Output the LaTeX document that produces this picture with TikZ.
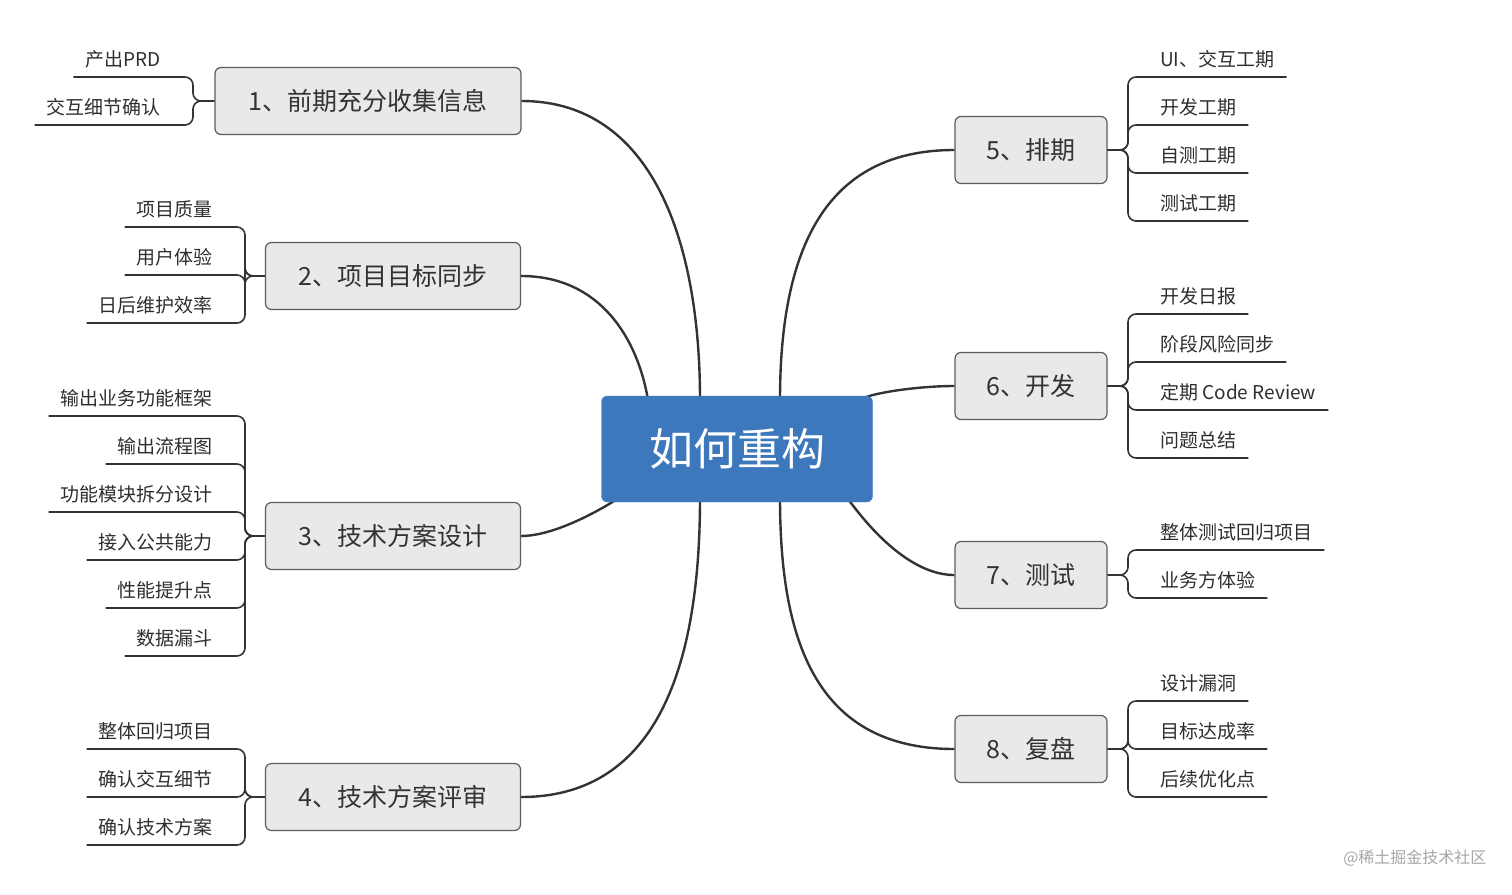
\documentclass[tikz,border=0pt]{standalone}
\usepackage{fontspec}
\setmainfont{Noto Sans CJK SC}
\usetikzlibrary{positioning, calc}

\definecolor{centreblue}{HTML}{3D78BD}
\definecolor{boxgrey}{HTML}{E9E9E9}
\definecolor{inkgrey}{HTML}{333333}

% left and right leaves: name, stub x, underline y, text, parent
\newcommand{\lleaf}[5]{%
  \node[leaftext, anchor=base east] (#1) at (#2-32,#3-11) {#4};
  \draw[twig] (#5.west) -- (#5.west -| #2,0) |- ($(#1.west |- 0,#3)+(-12,0)$);}
\newcommand{\rleaf}[5]{%
  \node[leaftext, anchor=base west] (#1) at (#2+32,#3-11) {#4};
  \draw[twig] (#5.east) -- (#5.east -| #2,0) |- ($(#1.east |- 0,#3)+(12,0)$);}

\begin{document}
\begin{tikzpicture}[x=1pt, y=-1pt,
    centre/.style={draw=centreblue, fill=centreblue, text=white, rounded corners=6,
      minimum width=271, minimum height=106, font=\fontsize{44}{48}\selectfont},
    topic/.style={draw=inkgrey!80, fill=boxgrey, rounded corners=6, line width=1.2,
      minimum height=67, text=inkgrey, font=\fontsize{25}{28}\selectfont},
    leaftext/.style={inner sep=0, text=inkgrey!90!black, font=\fontsize{19}{21}\selectfont},
    twig/.style={draw=inkgrey, line width=1.6, rounded corners=8},
    limb/.style={draw=inkgrey, line width=2.4}]
  \useasboundingbox (0,0) rectangle (1512,894);

  % topics
  \node[topic, minimum width=306] (t1) at (368,101) {1、前期充分收集信息};
  \node[topic, minimum width=255] (t2) at (393,276) {2、项目目标同步};
  \node[topic, minimum width=255] (t3) at (393,536) {3、技术方案设计};
  \node[topic, minimum width=255] (t4) at (393,797) {4、技术方案评审};
  \node[topic, minimum width=152] (t5) at (1031,150) {5、排期};
  \node[topic, minimum width=152] (t6) at (1031,386) {6、开发};
  \node[topic, minimum width=152] (t7) at (1031,575) {7、测试};
  \node[topic, minimum width=152] (t8) at (1031,749) {8、复盘};

  % limbs
  \draw[limb] (t1.east) .. controls +(130,0) and +(0,-160) .. (700,400);
  \draw[limb] (t2.east) .. controls +(80,0) and +(-10,-60) .. (648,400);
  \draw[limb] (t3.east) .. controls +(50,0) and +(30,-20) .. (618,498);
  \draw[limb] (t4.east) .. controls +(140,0) and +(0,160) .. (700,498);
  \draw[limb] (t5.west) .. controls +(-130,0) and +(0,-150) .. (780,400);
  \draw[limb] (t6.west) .. controls +(-50,0) and +(-30,-5) .. (868,404);
  \draw[limb] (t7.west) .. controls +(-70,0) and +(-20,-40) .. (845,498);
  \draw[limb] (t8.west) .. controls +(-140,0) and +(0,140) .. (780,498);

  % centre
  \node[centre] (hub) at (737,449) {如何重构};

  % leaves
  \lleaf{l11}{193}{77}{产出PRD}{t1}
  \lleaf{l12}{193}{125}{交互细节确认}{t1}
  \lleaf{l21}{245}{227}{项目质量}{t2}
  \lleaf{l22}{245}{275}{用户体验}{t2}
  \lleaf{l23}{245}{323}{日后维护效率}{t2}
  \lleaf{l31}{245}{416}{输出业务功能框架}{t3}
  \lleaf{l32}{245}{464}{输出流程图}{t3}
  \lleaf{l33}{245}{512}{功能模块拆分设计}{t3}
  \lleaf{l34}{245}{560}{接入公共能力}{t3}
  \lleaf{l35}{245}{608}{性能提升点}{t3}
  \lleaf{l36}{245}{656}{数据漏斗}{t3}
  \lleaf{l41}{245}{749}{整体回归项目}{t4}
  \lleaf{l42}{245}{797}{确认交互细节}{t4}
  \lleaf{l43}{245}{845}{确认技术方案}{t4}
  \rleaf{r51}{1128}{77}{UI、交互工期}{t5}
  \rleaf{r52}{1128}{125}{开发工期}{t5}
  \rleaf{r53}{1128}{173}{自测工期}{t5}
  \rleaf{r54}{1128}{221}{测试工期}{t5}
  \rleaf{r61}{1128}{314}{开发日报}{t6}
  \rleaf{r62}{1128}{362}{阶段风险同步}{t6}
  \rleaf{r63}{1128}{410}{定期 Code Review}{t6}
  \rleaf{r64}{1128}{458}{问题总结}{t6}
  \rleaf{r71}{1128}{550}{整体测试回归项目}{t7}
  \rleaf{r72}{1128}{598}{业务方体验}{t7}
  \rleaf{r81}{1128}{701}{设计漏洞}{t8}
  \rleaf{r82}{1128}{749}{目标达成率}{t8}
  \rleaf{r83}{1128}{797}{后续优化点}{t8}

  \node[anchor=east, text=gray!70, font=\fontsize{16}{18}\selectfont] (mark) at (1490,858) {@稀土掘金技术社区};
\end{tikzpicture}
\end{document}
